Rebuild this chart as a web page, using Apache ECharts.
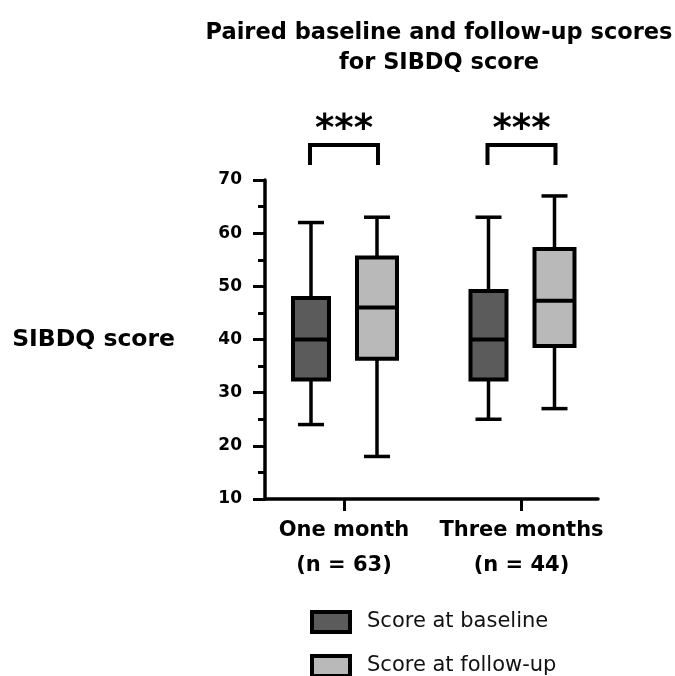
<!DOCTYPE html>
<html>
<head>
<meta charset="utf-8">
<script src="https://cdn.jsdelivr.net/npm/echarts@6/dist/echarts.min.js"></script>
<style>
  html, body { margin: 0; padding: 0; background: #fff; }
  #chart { width: 675px; height: 676px; }
</style>
</head>
<body>
<div id="chart"></div>
<script>
// Time points and their paired sample sizes
const groups = ['One month', 'Three months'];
const groupN = [63, 44];

// Box statistics per time point: [min, Q1, median, Q3, max]
const baselineStats = [
  [24, 32.5, 40, 47.8, 62],
  [25, 32.5, 40, 49.1, 63]
];
const followUpStats = [
  [18, 36.4, 46, 55.4, 63],
  [27, 38.8, 47.3, 57, 67]
];

// Significance of the paired comparison at each time point
const significance = ['***', '***'];

// Value axis settings
const yMin = 10, yMax = 70, yStep = 10;

const seriesNames = ['Score at baseline', 'Score at follow-up'];
const FONT = '"DejaVu Sans", sans-serif';
const BASE_FILL = '#5b5b5b';
const FOLLOW_FILL = '#b9b9b9';

function boxRenderer(offsetPx, boxW, fill) {
  return function (params, api) {
    const cat = api.value(0);
    const cx = api.coord([cat, yMin])[0] + offsetPx;
    const y = k => api.coord([cat, api.value(k)])[1];
    const yLo = y(1), yQ1 = y(2), yMed = y(3), yQ3 = y(4), yHi = y(5);
    const capHalf = 13;
    const line = { stroke: '#000', lineWidth: 3.5 };
    return {
      type: 'group',
      children: [
        { type: 'line', shape: { x1: cx, y1: yHi, x2: cx, y2: yQ3 }, style: line },
        { type: 'line', shape: { x1: cx, y1: yQ1, x2: cx, y2: yLo }, style: line },
        { type: 'line', shape: { x1: cx - capHalf, y1: yHi, x2: cx + capHalf, y2: yHi }, style: line },
        { type: 'line', shape: { x1: cx - capHalf, y1: yLo, x2: cx + capHalf, y2: yLo }, style: line },
        { type: 'rect', shape: { x: cx - boxW / 2, y: yQ3, width: boxW, height: yQ1 - yQ3 },
          style: { fill: fill, stroke: '#000', lineWidth: 4 } },
        { type: 'line', shape: { x1: cx - boxW / 2, y1: yMed, x2: cx + boxW / 2, y2: yMed },
          style: { stroke: '#000', lineWidth: 4 } }
      ]
    };
  };
}

function bracketRenderer(params, api) {
  const cat = api.value(0);
  const top = api.coord([cat, yMax]);
  const cx = top[0];
  const xl = cx - 34, xr = cx + 34;
  const yBottom = top[1] - 15, yTop = top[1] - 35;
  return {
    type: 'group',
    children: [
      { type: 'polyline', shape: { points: [[xl, yBottom], [xl, yTop], [xr, yTop], [xr, yBottom]] },
        style: { stroke: '#000', lineWidth: 4, fill: null } },
      { type: 'text', style: { text: significance[cat], x: cx, y: top[1] - 50,
          align: 'center', verticalAlign: 'middle',
          font: 'bold 37px ' + FONT, fill: '#000' } }
    ]
  };
}

function legendFor(idx, fill, top) {
  return {
    left: 310,
    top: top,
    padding: 0,
    itemWidth: 38,
    itemHeight: 20,
    icon: 'rect',
    selectedMode: false,
    textStyle: { fontFamily: FONT, fontSize: 21, color: '#111', padding: [0, 0, 0, 12] },
    data: [{ name: seriesNames[idx], itemStyle: { color: fill, borderColor: '#000', borderWidth: 4 } }]
  };
}

const chart = echarts.init(document.getElementById('chart'));
chart.setOption({
  animation: false,
  backgroundColor: '#fff',
  title: {
    text: 'Paired baseline and follow-up scores\nfor SIBDQ score',
    left: 434,
    top: 13,
    textAlign: 'center',
    textStyle: { fontFamily: FONT, fontWeight: 'bold', fontSize: 22.5, lineHeight: 30, color: '#000' }
  },
  legend: [
    legendFor(0, BASE_FILL, 610),
    legendFor(1, FOLLOW_FILL, 654)
  ],
  grid: { left: 265, top: 180, right: 77, bottom: 177 },
  xAxis: {
    type: 'value',
    min: -0.445,
    max: 1.431,
    splitLine: { show: false },
    axisLine: { show: true, onZero: false, lineStyle: { color: '#000', width: 3.5 } },
    axisTick: { show: true, length: 12, customValues: [0, 1], lineStyle: { color: '#000', width: 3 } },
    axisLabel: {
      customValues: [0, 1],
      margin: 14,
      formatter: v => groups[v] + '\n(n = ' + groupN[v] + ')',
      fontFamily: FONT, fontWeight: 'bold', fontSize: 21, lineHeight: 35, color: '#000'
    }
  },
  yAxis: {
    type: 'value',
    min: yMin,
    max: yMax,
    interval: yStep,
    name: 'SIBDQ score',
    nameLocation: 'middle',
    nameRotate: 0,
    nameGap: 90,
    nameTextStyle: { fontFamily: FONT, fontWeight: 'bold', fontSize: 23.5, color: '#000' },
    splitLine: { show: false },
    axisLine: { show: true, onZero: false, lineStyle: { color: '#000', width: 3.5 } },
    axisTick: { show: true, length: 12, lineStyle: { color: '#000', width: 3 } },
    minorTick: { show: true, splitNumber: 2, length: 7, lineStyle: { color: '#000', width: 3 } },
    axisLabel: { margin: 23, fontFamily: FONT, fontWeight: 'bold', fontSize: 17, color: '#000' }
  },
  series: [
    {
      name: seriesNames[0],
      type: 'custom',
      renderItem: boxRenderer(-33, 36, BASE_FILL),
      itemStyle: { color: BASE_FILL },
      encode: { x: 0, y: [1, 2, 3, 4, 5] },
      data: baselineStats.map((s, i) => [i].concat(s)),
      silent: true
    },
    {
      name: seriesNames[1],
      type: 'custom',
      renderItem: boxRenderer(33, 40, FOLLOW_FILL),
      itemStyle: { color: FOLLOW_FILL },
      encode: { x: 0, y: [1, 2, 3, 4, 5] },
      data: followUpStats.map((s, i) => [i].concat(s)),
      silent: true
    },
    {
      type: 'custom',
      renderItem: bracketRenderer,
      encode: { x: 0, y: 1 },
      data: significance.map((s, i) => [i, yMax]),
      silent: true
    }
  ]
});
</script>
</body>
</html>
